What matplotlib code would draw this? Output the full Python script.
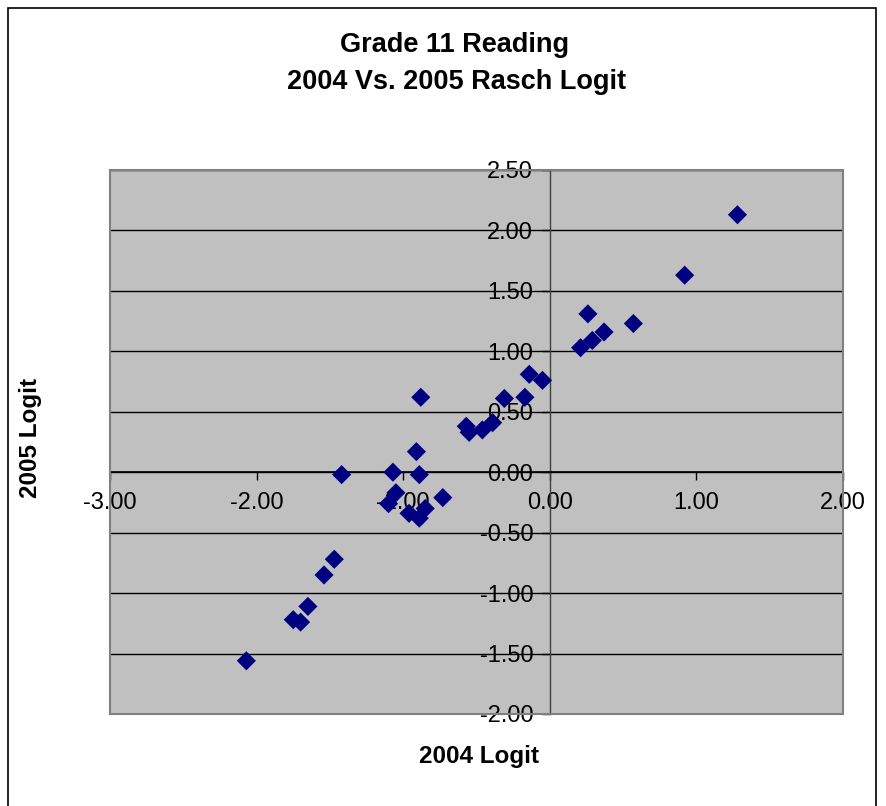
import matplotlib
matplotlib.use("Agg")
import matplotlib.pyplot as plt
from matplotlib.patches import Rectangle

plt.rcParams["font.family"] = ["Liberation Sans", "DejaVu Sans"]

# Logit-Werte 2004 (x) und 2005 (y)
logit_2004 = [1.28, 0.92, 0.57, 0.26, 0.37, 0.29, 0.21, -0.05, -0.14, -0.17,
              -0.31, -0.39, -0.46, -0.57, -0.55, -0.88, -0.91, -1.42, -1.07, -0.89,
              -1.05, -1.10, -0.73, -0.96, -0.89, -0.85, -1.47, -1.54, -1.65, -1.75,
              -1.70, -2.07]
logit_2005 = [2.13, 1.63, 1.23, 1.31, 1.16, 1.09, 1.03, 0.76, 0.81, 0.62,
              0.61, 0.41, 0.35, 0.38, 0.33, 0.62, 0.17, -0.02, 0.00, -0.02,
              -0.17, -0.26, -0.21, -0.34, -0.38, -0.30, -0.72, -0.85, -1.11, -1.22,
              -1.24, -1.56]

x_ticks = [-3.0, -2.0, -1.0, 0.0, 1.0, 2.0]
y_ticks = [-2.0, -1.5, -1.0, -0.5, 0.0, 0.5, 1.0, 1.5, 2.0, 2.5]

fig = plt.figure(figsize=(8.86, 8.06), dpi=100)
W, H = 886, 806

# Rahmen um das ganze Diagramm
fig.patches.append(Rectangle((8 / W, -0.01), (876 - 8) / W, 1 - 8 / H + 0.01,
                             transform=fig.transFigure, fill=False,
                             edgecolor="black", linewidth=1.2))

ax = fig.add_axes([110 / W, 1 - 714 / H, (843 - 110) / W, (714 - 170) / H])
ax.set_facecolor("#C0C0C0")
ax.set_xlim(-3, 2)
ax.set_ylim(-2, 2.5)

# Gitterlinien horizontal
for y in y_ticks:
    ax.axhline(y, color="black", linewidth=1.0, zorder=1)

# Achsen durch den Nullpunkt
for side in ["top", "right"]:
    ax.spines[side].set_visible(False)
ax.spines["left"].set_position(("data", 0))
ax.spines["bottom"].set_position(("data", 0))
ax.spines["left"].set_color("#404040")
ax.spines["bottom"].set_color("black")
ax.spines["left"].set_linewidth(1.0)
ax.spines["bottom"].set_linewidth(1.2)

# grauer Rahmen der Plotfläche
ax.add_patch(Rectangle((0, 0), 1, 1, transform=ax.transAxes, fill=False,
                       edgecolor="#808080", linewidth=1.5, zorder=5, clip_on=False))

ax.set_xticks(x_ticks)
ax.set_yticks(y_ticks)
ax.set_xticklabels([f"{v:.2f}" for v in x_ticks])
ax.set_yticklabels([f"{v:.2f}" for v in y_ticks])
ax.tick_params(axis="both", direction="out", length=6, width=1, labelsize=17,
               colors="black")
ax.tick_params(axis="x", pad=8)
ax.tick_params(axis="y", pad=6)

ax.scatter(logit_2004, logit_2005, marker="D", s=95, color="#000080",
           edgecolors="none", zorder=4, clip_on=False)

fig.text(455 / W, 1 - 45 / H, "Grade 11 Reading", ha="center", va="center",
         fontsize=19.5, fontweight="bold")
fig.text(457 / W, 1 - 82 / H, "2004 Vs. 2005 Rasch Logit", ha="center",
         va="center", fontsize=19.5, fontweight="bold")
fig.text(479 / W, 1 - 757 / H, "2004 Logit", ha="center", va="center",
         fontsize=17.5, fontweight="bold")
fig.text(30 / W, 1 - 438 / H, "2005 Logit", ha="center", va="center",
         fontsize=17.5, fontweight="bold", rotation=90)

fig.savefig("out.png", dpi=100)
